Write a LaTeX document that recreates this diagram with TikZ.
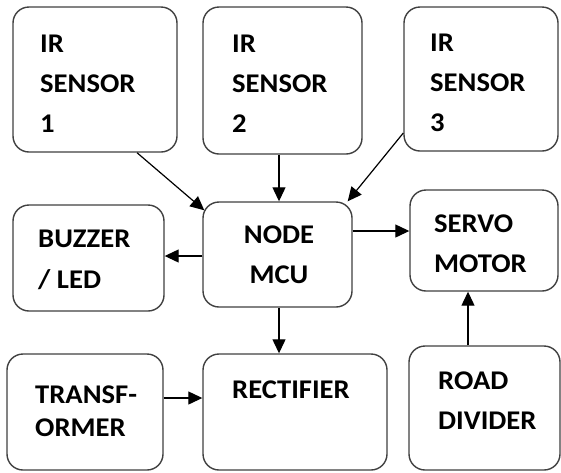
\documentclass[tikz,border=0pt]{standalone}
\usepackage{fontspec}
\newfontfamily\boxfont{Carlito}[FakeStretch=1.06]
\usetikzlibrary{arrows.meta,calc}
\tikzset{
  blk/.style={draw=black!75, line width=1.4pt, rounded corners=16pt, inner sep=0pt, fill=white},
  txt/.style={inner sep=0pt, anchor=base west, align=left, text=black,
    font=\boxfont\bfseries\fontsize{27}{40}\selectfont},
  arr/.style={line width=1.2pt, -{Triangle[length=14pt,width=13pt]}}
}
\begin{document}
\begin{tikzpicture}[x=1pt,y=-1pt]
\useasboundingbox (0,0) rectangle (561,472);
% boxes
\node[blk, minimum width=164pt, minimum height=145pt] (ir1) at (95,79.5) {};
\node[blk, minimum width=159pt, minimum height=147pt] (ir2) at (282.5,80.5) {};
\node[blk, minimum width=154pt, minimum height=144pt] (ir3) at (481,79) {};
\node[blk, minimum width=151pt, minimum height=106pt] (buz) at (88.5,258) {};
\node[blk, minimum width=149pt, minimum height=105pt] (mcu) at (277.5,254.5) {};
\node[blk, minimum width=148pt, minimum height=101pt] (servo) at (484,240.5) {};
\node[blk, minimum width=156pt, minimum height=116pt] (tr) at (85,412) {};
\node[blk, minimum width=184pt, minimum height=116pt] (rect) at (295,412) {};
\node[blk, minimum width=151pt, minimum height=124pt] (road) at (484.5,408) {};
% texts (anchor at baseline of last line)
\node[txt] (t1) at (40,132) {IR\\SENSOR\\1};
\node[txt] (t2) at (232,132) {IR\\SENSOR\\2};
\node[txt] (t3) at (430,131) {IR\\SENSOR\\3};
\node[txt, font=\boxfont\bfseries\fontsize{27}{41}\selectfont] (tb) at (38,288) {BUZZER\\/ LED};
\node[txt, anchor=base, align=center] (tm) at (279,283) {NODE\\MCU};
\node[txt] (ts) at (434,272) {SERVO\\MOTOR};
\node[txt, font=\boxfont\bfseries\fontsize{27}{33}\selectfont] (tt) at (35,436) {TRANSF-\\ORMER};
\node[txt] (tr2) at (232,398) {RECTIFIER};
\node[txt] (tdv) at (438,429) {ROAD\\DIVIDER};
% connectors
\draw[arr] ($(ir1.south)+(42,0)$) -- ($(mcu.north west)+(2,9)$);
\draw[arr] ($(ir2.south)+(-3.5,0)$) -- ($(mcu.north)+(1.5,0)$);
\draw[arr] ($(ir3.west)+(0,54)$) -- ($(mcu.north east)+(-5,0)$);
\draw[arr] ($(mcu.east)+(0,-23.5)$) -- ($(servo.west)+(0,-9.5)$);
\draw[arr] ($(mcu.west)+(0,1.5)$) -- ($(buz.east)+(0,-2)$);
\draw[arr] ($(mcu.south)+(1.5,0)$) -- ($(rect.north)+(-16,0)$);
\draw[arr] ($(tr.east)+(0,-14)$) -- ($(rect.west)+(0,-14)$);
\draw[arr] ($(road.north)+(-16.5,0)$) -- ($(servo.south)+(-16,0)$);
\end{tikzpicture}
\end{document}
